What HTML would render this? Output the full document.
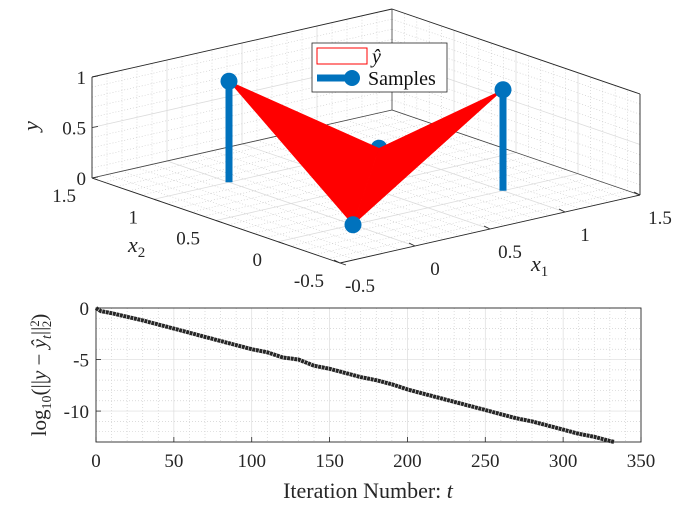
<!DOCTYPE html>
<html><head><meta charset="utf-8"><style>
body{margin:0;background:#fff;}
svg{display:block;font-family:"Liberation Serif",serif;}
</style></head><body>
<svg id="fig" width="700" height="512" viewBox="0 0 700 512">
<g id="topplot"></g>
<g id="botplot"></g>
</svg>
<script>
// ---- 3D surface data ----
const sampleX1 = [0, 0, 1, 1];
const sampleX2 = [0, 1, 0, 1];
const sampleY = [0, 1, 1, 0];
const triangles = [[1, 0, 3], [2, 0, 3]];
const axTicks = [-0.5, 0, 0.5, 1, 1.5];
const axTickLabels = ["-0.5", "0", "0.5", "1", "1.5"];
const zTicks = [0, 0.5, 1];
const zTickLabels = ["0", "0.5", "1"];
// ---- convergence data ----
const iterT = [0,3,10,20,30,40,50,60,70,80,90,100,110,120,130,140,150,160,170,180,190,200,210,220,230,240,250,260,270,280,290,300,310,320,330,333];
const logErr = [0,-0.3,-0.5,-0.85,-1.2,-1.6,-2.0,-2.4,-2.8,-3.2,-3.6,-4.0,-4.3,-4.8,-5.0,-5.6,-5.9,-6.3,-6.7,-7.0,-7.4,-7.9,-8.3,-8.7,-9.1,-9.5,-9.9,-10.3,-10.7,-11.0,-11.4,-11.8,-12.2,-12.5,-12.9,-13.0];
const xTicks2 = [0,50,100,150,200,250,300,350];
const yTicks2 = [0,-5,-10];

const NS="http://www.w3.org/2000/svg";
function mk(parent,tag,attrs,text){const e=document.createElementNS(NS,tag);for(const k in attrs)e.setAttribute(k,attrs[k]);if(text!==undefined)e.textContent=text;parent.appendChild(e);return e;}

function P(x1,x2,z){
  const a=(x1+0.5)/2, b=(x2+0.5)/2;
  return [340+a*300+b*(-248), 263+a*(-68)+b*(-85)+z*(-101)];
}
const topG=document.getElementById('topplot');
function line3(p,q,st){const A=P(...p),B=P(...q);return mk(topG,'line',Object.assign({x1:A[0],y1:A[1],x2:B[0],y2:B[1]},st));}
const minorSt={stroke:'#c8c8c8','stroke-width':0.6,'stroke-dasharray':'1,2'};
const majorSt={stroke:'#dcdcdc','stroke-width':0.8};
for(let i=0;i<=20;i++){
  const v=-0.5+i*0.1; const st=(i%5===0)?majorSt:minorSt;
  let l;
  l=line3([v,-0.5,0],[v,1.5,0],st);
  
  
  l=line3([-0.5,v,0],[1.5,v,0],st);
  
  
  l=line3([v,1.5,0],[v,1.5,1],st);
  
  
  l=line3([1.5,v,0],[1.5,v,1],st);
  
  
}
for(let i=0;i<=10;i++){
  const z=i*0.1; const st=(i%5===0)?majorSt:minorSt;
  let l=line3([-0.5,1.5,z],[1.5,1.5,z],st);
  
  
  l=line3([1.5,1.5,z],[1.5,-0.5,z],st);
  
  
}
const inSt={stroke:'#444','stroke-width':0.8};
[[[-0.5,1.5,0],[1.5,1.5,0]],[[1.5,1.5,0],[1.5,-0.5,0]],[[1.5,1.5,0],[1.5,1.5,1]]].forEach(e=>{
  const l=line3(e[0],e[1],inSt);
  
  
});
const C='#0072BD';
function stem(i){
  const B=P(sampleX1[i],sampleX2[i],0),T=P(sampleX1[i],sampleX2[i],sampleY[i]);
  const l=mk(topG,'line',{x1:B[0],y1:B[1],x2:T[0],y2:T[1],stroke:C,'stroke-width':7});
  
  
  const c=mk(topG,'circle',{cx:T[0],cy:T[1],r:8.5,fill:C});
  
  
}
stem(3);
triangles.forEach(t=>{
  const pts=t.map(i=>P(sampleX1[i],sampleX2[i],sampleY[i]).join(',')).join(' ');
  const p=mk(topG,'polygon',{points:pts,fill:'#ff0000',stroke:'#ff0000','stroke-width':0.5});
  
  
});
stem(0);stem(1);stem(2);
const boxSt={stroke:'#262626','stroke-width':0.9};
[[[-0.5,1.5,0],[-0.5,1.5,1]],[[-0.5,1.5,0],[-0.5,-0.5,0]],[[-0.5,-0.5,0],[1.5,-0.5,0]],[[1.5,-0.5,0],[1.5,-0.5,1]],[[-0.5,1.5,1],[1.5,1.5,1]],[[1.5,1.5,1],[1.5,-0.5,1]]].forEach(e=>{
  const l=line3(e[0],e[1],boxSt);
  
  
});
axTicks.forEach((v,i)=>{
  let A=P(-0.5,v,0);
  mk(topG,'line',{x1:A[0],y1:A[1],x2:A[0]+6,y2:A[1]+2,stroke:'#262626','stroke-width':0.8});
  let t=mk(topG,'text',{x:A[0]-16,y:A[1]+24,'font-size':19,'text-anchor':'end',fill:'#262626'},axTickLabels[i]);
  
  
  A=P(v,-0.5,0);
  mk(topG,'line',{x1:A[0],y1:A[1],x2:A[0]-6,y2:A[1]-3,stroke:'#262626','stroke-width':0.8});
  t=mk(topG,'text',{x:A[0]+20,y:A[1]+29,'font-size':19,'text-anchor':'middle',fill:'#262626'},axTickLabels[i]);
  
  
});
zTicks.forEach((z,i)=>{
  const A=P(-0.5,1.5,z);
  mk(topG,'line',{x1:A[0],y1:A[1],x2:A[0]+6,y2:A[1]-1,stroke:'#262626','stroke-width':0.8});
  const t=mk(topG,'text',{x:A[0]-6,y:A[1]+7,'font-size':19,'text-anchor':'end',fill:'#262626'},zTickLabels[i]);
  
  
});
let t=mk(topG,'text',{x:38,y:126,'font-size':22,'font-style':'italic','text-anchor':'middle',transform:'rotate(-90 38 126)',fill:'#262626'},'y');


t=mk(topG,'text',{x:128,y:252,'font-size':22,'font-style':'italic',fill:'#262626'},'x');
mk(t,'tspan',{'font-size':15,'font-style':'normal',dy:5},'2');


t=mk(topG,'text',{x:531,y:271,'font-size':22,'font-style':'italic',fill:'#262626'},'x');
mk(t,'tspan',{'font-size':15,'font-style':'normal',dy:5},'1');


const lg=mk(topG,'g',{});


mk(lg,'rect',{x:312,y:43,width:135,height:49,fill:'#fff',stroke:'#262626','stroke-width':0.8});
let s=mk(lg,'rect',{x:317,y:48,width:50,height:16,fill:'#fff',stroke:'#ff0000','stroke-width':1});


mk(lg,'text',{x:372,y:63,'font-size':20,'font-style':'italic',fill:'#111'},'ŷ');
mk(lg,'line',{x1:317,y1:78,x2:352,y2:78,stroke:C,'stroke-width':7});
mk(lg,'circle',{cx:352,cy:78,r:8,fill:C});
mk(lg,'text',{x:368,y:85,'font-size':20,fill:'#111'},'Samples');

// ---- bottom plot ----
const botG=document.getElementById('botplot');
const L=96,R=641,T0=308,Bm=442;
const xs=v=>L+(v/350)*(R-L);
const ys=v=>T0+(-v/13)*(Bm-T0);
for(let v=10;v<350;v+=10){
  const g=mk(botG,'line',{x1:xs(v),y1:T0,x2:xs(v),y2:Bm,stroke:v%50===0?'#dcdcdc':'#d0d0d0','stroke-width':0.7,'stroke-dasharray':v%50===0?'none':'1,2'});
  
  
}
for(let v=-1;v>-13;v--){
  const g=mk(botG,'line',{x1:L,y1:ys(v),x2:R,y2:ys(v),stroke:v%5===0?'#dcdcdc':'#d0d0d0','stroke-width':0.7,'stroke-dasharray':v%5===0?'none':'1,2'});
  
  
}
const d=iterT.map((x,i)=>(i?'L':'M')+xs(x).toFixed(1)+','+ys(logErr[i]).toFixed(1)).join(' ');
let pth=mk(botG,'path',{d:d,fill:'none',stroke:'#262626','stroke-width':4,'stroke-linejoin':'round','stroke-dasharray':'3,0.6'});


let bx=mk(botG,'rect',{x:L,y:T0,width:R-L,height:Bm-T0,fill:'none',stroke:'#262626','stroke-width':0.9});


xTicks2.forEach(v=>{
  mk(botG,'line',{x1:xs(v),y1:Bm,x2:xs(v),y2:Bm-5,stroke:'#262626','stroke-width':0.8});
  const tt=mk(botG,'text',{x:xs(v),y:Bm+25,'font-size':19,'text-anchor':'middle',fill:'#262626'},String(v));
  
  
});
yTicks2.forEach(v=>{
  mk(botG,'line',{x1:L,y1:ys(v),x2:L+5,y2:ys(v),stroke:'#262626','stroke-width':0.8});
  const tt=mk(botG,'text',{x:L-7,y:ys(v)+7,'font-size':19,'text-anchor':'end',fill:'#262626'},String(v));
  
  
});
t=mk(botG,'text',{x:368,y:498,'font-size':22,'text-anchor':'middle',fill:'#262626'},'Iteration Number: ');
mk(t,'tspan',{'font-style':'italic'},'t');


t=mk(botG,'text',{x:46,y:375,'font-size':21,'text-anchor':'middle',transform:'rotate(-90 46 375)',fill:'#262626'},'log');
mk(t,'tspan',{'font-size':14,dy:5},'10');
mk(t,'tspan',{dy:-5},'(||');
mk(t,'tspan',{'font-style':'italic'},'y');
mk(t,'tspan',{},' − ');
mk(t,'tspan',{'font-style':'italic'},'ŷ');
mk(t,'tspan',{'font-size':14,'font-style':'italic',dy:5},'t');
mk(t,'tspan',{dy:-5},'||');
mk(t,'tspan',{'font-size':13,dy:-7},'2');
mk(t,'tspan',{'font-size':13,dx:-7,dy:12},'2');
mk(t,'tspan',{dy:-5},')');


</script>
</body></html>
